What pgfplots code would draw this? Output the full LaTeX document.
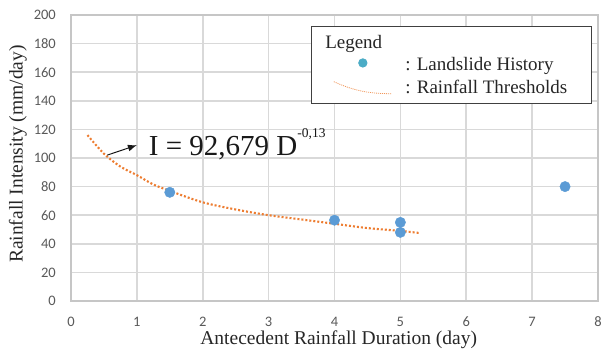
\documentclass[border=0pt]{standalone}
\usepackage{pgfplots}
\pgfplotsset{compat=1.18}
\usetikzlibrary{arrows.meta,calc}
\usepackage{fontspec}
\setmainfont{Liberation Serif}
\newfontfamily\carlito{Carlito}
\definecolor{gridgray}{HTML}{D9D9D9}
\definecolor{axgray}{HTML}{C6C6C6}
\definecolor{tickgray}{HTML}{595959}
\definecolor{ptblue}{HTML}{5B9BD5}
\definecolor{legteal}{HTML}{4BACC6}
\definecolor{throrange}{HTML}{ED7D31}
\begin{document}
\begin{tikzpicture}
\begin{axis}[
  scale only axis, width=527pt, height=286pt,
  xmin=0, xmax=8, ymin=0, ymax=200,
  xtick={0,1,...,8}, ytick={0,20,...,200},
  grid=major, major grid style={draw=gridgray, line width=1.6pt},
  axis line style={draw=axgray, line width=1.8pt},
  tick style={draw=none},
  /pgf/number format/assume math mode=true,
  ticklabel style={font=\carlito\fontsize{14.5}{14.5}\selectfont, text=tickgray, inner sep=0pt},
  xticklabel style={anchor=center, yshift=-21pt},
  yticklabel style={anchor=east, xshift=-15pt},
  xlabel={Antecedent Rainfall Duration (day)},
  ylabel={Rainfall Intensity (mm/day)},
  label style={font=\fontsize{19.5}{19.5}\selectfont, text=black!85},
  xlabel style={at={(axis description cs:0.508,-0.136)}, anchor=center},
  ylabel style={at={(axis description cs:-0.1006,0.514)}, anchor=center},
  clip=false,
  legend cell align=left,
  legend style={at={(axis description cs:0.4555,0.9615)}, anchor=north west,
    draw=black!75, line width=0.8pt, fill=white,
    font=\fontsize{19}{19}\selectfont, text=black!85,
    inner xsep=22pt, inner ysep=6.5pt, row sep=4pt, column sep=11pt},
]
\addlegendimage{empty legend}
\addlegendentry{\makebox[0pt][l]{\hspace{-80pt}Legend}}
\addplot[only marks, mark=*, color=ptblue, mark size=5.2pt,
  legend image code/.code={\path[draw=none,fill=none] (0pt,-4pt) rectangle (58pt,4pt); \fill[legteal] (29pt,2pt) circle (4.2pt);}]
  coordinates {(1.5,76) (4,56.5) (5,55) (5,48) (7.5,80)};
\addlegendentry{: Landslide History}
\addplot[color=throrange, line width=2.1pt, dash pattern=on 2pt off 2pt, no marks, smooth,
  legend image code/.code={\path[draw=none,fill=none] (0pt,-4pt) rectangle (58pt,4pt); \draw[throrange!80, line width=0.8pt, dash pattern=on 1pt off 1pt] (0pt,6pt) .. controls (20pt,-3pt) and (35pt,-6pt) .. (58pt,-6pt);}]
  coordinates {(0.25,116) (0.5,103) (0.75,94) (1,88) (1.25,81.5) (1.5,77) (2,69) (2.5,64) (3,60) (3.5,57) (4,54) (4.5,51) (5,49) (5.3,47.5)};
\addlegendentry{: Rainfall Thresholds}
\draw[-{Latex[length=9pt,width=7pt]}, line width=1pt, black!90] (axis cs:0.55,102) -- (axis cs:1.0,109);
\node[anchor=base west, font=\fontsize{29}{29}\selectfont, text=black!90, inner sep=0pt] at (axis cs:1.18,101.6) {I = 92,679 D\raisebox{18pt}{\fontsize{13.5}{13.5}\selectfont -0,13}};
\end{axis}
\path (current axis.south west) ++(-71pt,-50pt) rectangle ($(current axis.north east)+(5pt,15pt)$);
\end{tikzpicture}
\end{document}
